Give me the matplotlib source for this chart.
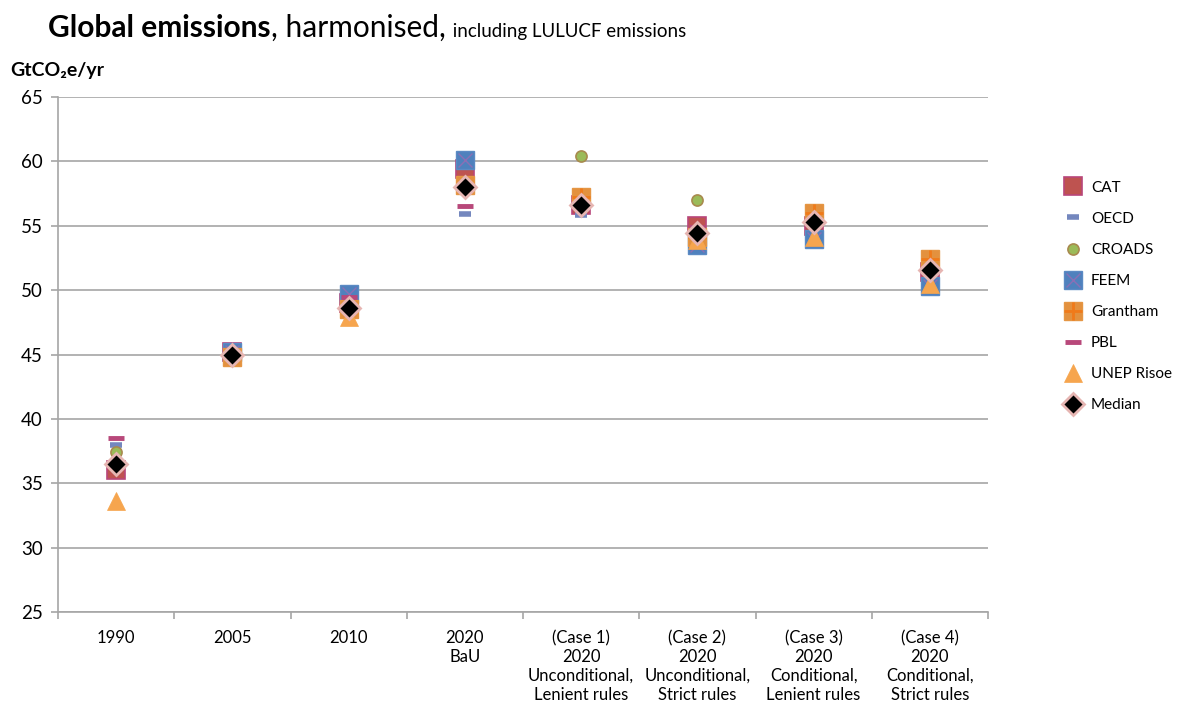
import matplotlib
matplotlib.use("Agg")
import matplotlib.pyplot as plt
import numpy as np

plt.rcParams['font.family'] = ['Lato', 'DejaVu Sans']

categories = ["1990", "2005", "2010", "2020\nBaU",
              "(Case 1)\n2020\nUnconditional,\nLenient rules",
              "(Case 2)\n2020\nUnconditional,\nStrict rules",
              "(Case 3)\n2020\nConditional,\nLenient rules",
              "(Case 4)\n2020\nConditional,\nStrict rules"]
nan = np.nan
cat_vals      = [36.0, 45.2, 49.0, 59.4, 56.6, 55.0, 55.0, 51.4]
oecd_vals     = [38.0, 45.0, 48.8, 55.9, 55.8, nan, nan, nan]
croads_vals   = [37.4, 45.0, 48.8, nan, 60.4, 57.0, nan, nan]
feem_vals     = [nan, 45.2, 49.7, 60.1, nan, 53.5, 54.0, 50.3]
grantham_vals = [nan, 44.8, 48.5, 58.2, 57.2, 54.1, 56.0, 52.4]
pbl_vals      = [38.5, nan, 49.5, 56.5, nan, 54.9, nan, nan]
unep_vals     = [33.6, nan, 47.9, nan, nan, 53.9, 54.1, 50.5]
median_vals   = [36.5, 45.0, 48.6, 58.0, 56.6, 54.4, 55.3, 51.6]

fig = plt.figure(figsize=(11.83, 7.02), dpi=100)
ax = fig.add_axes([58/1183, 90/702, 930/1183, 515/702])
x = np.arange(len(categories))

grid_c = '#A6A6A6'
ax.set_xlim(-0.5, len(categories) - 0.5)
ax.set_ylim(25, 65)
ax.set_yticks(range(25, 66, 5))
ax.yaxis.grid(True, color=grid_c, lw=1.2)
ax.set_axisbelow(True)
for s in ['top', 'right']:
    ax.spines[s].set_visible(False)
for s in ['left', 'bottom']:
    ax.spines[s].set_color(grid_c)
    ax.spines[s].set_linewidth(1.2)
ax.set_xticks(x)
ax.set_xticklabels(categories, fontsize=12, linespacing=1.22)
ax.tick_params(axis='x', length=0, pad=13)
ax.set_xticks(np.arange(-0.5, len(categories), 1), minor=True)
ax.tick_params(axis='x', which='minor', length=5, color=grid_c, width=1.2)
ax.tick_params(axis='y', labelsize=13.5, length=5, color=grid_c, width=1.2, pad=6)

sq = 12.5
h_cat = ax.plot(x, cat_vals, ls='none', marker='s', ms=sq, mfc='#BE5350', mec='#B8467A', mew=1.2, zorder=3)[0]
h_oecd = ax.plot(x, oecd_vals, ls='none', marker='_', ms=9, mec='#7487BE', mew=4, zorder=3)[0]
h_croads = ax.plot(x, croads_vals, ls='none', marker='o', ms=8, mfc='#9BBB59', mec='#A88A4E', mew=1.2, zorder=3)[0]
h_feem = ax.plot(x, feem_vals, ls='none', marker='s', ms=sq, mfc='#4F81BD', mec='#5B8AC4', mew=1, zorder=3)[0]
h_feemx = ax.plot(x, feem_vals, ls='none', marker='x', ms=sq - 2, mec='#8B6FB5', mew=1, zorder=3)[0]
h_gr = ax.plot(x, grantham_vals, ls='none', marker='s', ms=sq, mfc='#E3913E', mec='#E59644', mew=1, zorder=3)[0]
h_grp = ax.plot(x, grantham_vals, ls='none', marker='+', ms=sq, mec='#F07A1A', mew=2, zorder=3)[0]
h_pbl = ax.plot(x, pbl_vals, ls='none', marker='_', ms=11, mec='#B8487A', mew=3.5, zorder=3)[0]
h_unep = ax.plot(x, unep_vals, ls='none', marker='^', ms=12.5, mfc='#F6A54E', mec='#F6A54E', mew=0.5, zorder=3)[0]
h_med = ax.plot(x, median_vals, ls='none', marker='D', ms=11, mfc='black', mec='#E6B5B2', mew=2, zorder=4)[0]

# Title
ty = 1 - 37/702
t1 = fig.text(48/1183, ty, "Global emissions", fontsize=21.5, fontweight='bold', va='baseline')
t2 = fig.text(0, 0, ", harmonised,", fontsize=21.5, va='baseline')
t3 = fig.text(0, 0, " including LULUCF emissions", fontsize=13.5, va='baseline')
fig.canvas.draw()
r = fig.canvas.get_renderer()
inv = fig.transFigure.inverted()
b1 = t1.get_window_extent(r)
t2.set_position((inv.transform((b1.x1, 0))[0], ty))
b2 = t2.get_window_extent(r)
t3.set_position((inv.transform((b2.x1 + 2, 0))[0], ty))

fig.text(10/1183, 1 - 76/702, "GtCO\u2082e/yr", fontsize=14, fontweight='bold', va='baseline')

handles = [h_cat, h_oecd, h_croads, (h_feem, h_feemx), (h_gr, h_grp), h_pbl, h_unep, h_med]
labels = ["CAT", "OECD", "CROADS", "FEEM", "Grantham", "PBL", "UNEP Risoe", "Median"]
fig.legend(handles, labels, loc='upper left', bbox_to_anchor=(1052/1183, 1 - 170/702),
           frameon=False, fontsize=11, labelspacing=1.12, handlelength=1.3,
           handletextpad=0.55, numpoints=1, borderaxespad=0.3)

fig.savefig("out.png", dpi=100)
